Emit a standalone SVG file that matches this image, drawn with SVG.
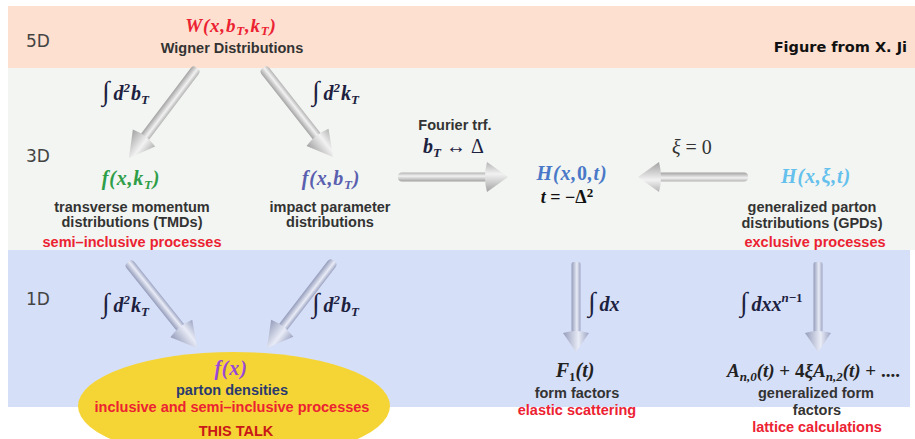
<svg xmlns="http://www.w3.org/2000/svg" width="915" height="439" viewBox="0 0 915 439">
<style>
.lbl{font-family:"Liberation Sans",Arial,sans-serif;font-weight:bold;font-size:14.5px;fill:#333;text-anchor:middle}
.red{fill:#ec2232}
.dim{font-family:"DejaVu Sans",sans-serif;font-size:17px;fill:#444}
.m{font-family:"Liberation Serif","Times New Roman",serif;font-style:italic;font-weight:bold;font-size:20px;fill:#1c2140}
.up{font-style:normal}
.sub{font-size:13px}
.int{font-style:normal;font-size:27px;font-weight:normal}
</style>
<defs>
<linearGradient id="gGray" x1="0" y1="0" x2="0" y2="1">
<stop offset="0" stop-color="#b4b4b4"/><stop offset="0.4" stop-color="#f2f2f2"/><stop offset="1" stop-color="#a2a2a2"/>
</linearGradient>
<linearGradient id="gBlue" x1="0" y1="0" x2="0" y2="1">
<stop offset="0" stop-color="#9ca4c2"/><stop offset="0.4" stop-color="#e9ecf7"/><stop offset="1" stop-color="#949cba"/>
</linearGradient>
</defs>

<g id="bands">
<rect x="8" y="6" width="907" height="62" fill="#fde0cf"/>
<rect x="8" y="68" width="907" height="182" fill="#f2f5f1"/>
<rect x="8" y="250" width="902" height="157" fill="#d6dff8"/>
<text class="dim" x="26" y="47">5D</text>
<text class="dim" x="26" y="162">3D</text>
<text class="dim" x="26" y="305">1D</text>
<text x="907" y="52" font-family="DejaVu Sans,sans-serif" font-weight="bold" font-size="14.5" fill="#111" text-anchor="end">Figure from X. Ji</text>
</g>

<g id="connectors">
<g transform="translate(197,68) rotate(127.1)">
<rect x="0" y="-5" width="90.8" height="10" rx="4" fill="url(#gGray)"/>
<path d="M112.8,0 L87.8,-14 Q83.8,0 87.8,14 Z" fill="url(#gGray)"/>
</g>
<g transform="translate(263,68) rotate(51.8)">
<rect x="0" y="-5" width="91.2" height="10" rx="4" fill="url(#gGray)"/>
<path d="M113.2,0 L88.2,-14 Q84.2,0 88.2,14 Z" fill="url(#gGray)"/>
</g>
<g transform="translate(398,177)">
<rect x="0" y="-4.5" width="91" height="9" rx="4" fill="url(#gGray)"/>
<path d="M110,0 L89,-15 Q85,0 89,15 Z" fill="url(#gGray)"/>
</g>
<g transform="translate(748,177) rotate(180)">
<rect x="0" y="-4.5" width="91" height="9" rx="4" fill="url(#gGray)"/>
<path d="M110,0 L89,-15 Q85,0 89,15 Z" fill="url(#gGray)"/>
</g>
<g transform="translate(128,262) rotate(51.3)">
<rect x="0" y="-5" width="88.3" height="10" rx="4" fill="url(#gBlue)"/>
<path d="M110.3,0 L85.3,-14 Q81.3,0 85.3,14 Z" fill="url(#gBlue)"/>
</g>
<g transform="translate(334,261) rotate(127.6)">
<rect x="0" y="-5" width="87.8" height="10" rx="4" fill="url(#gBlue)"/>
<path d="M109.8,0 L84.8,-14 Q80.8,0 84.8,14 Z" fill="url(#gBlue)"/>
</g>
<g transform="translate(576,262) rotate(90)">
<rect x="0" y="-4.5" width="73" height="9" rx="2" fill="url(#gBlue)"/>
<path d="M90,0 L71,-13 Q67,0 71,13 Z" fill="url(#gBlue)"/>
</g>
<g transform="translate(818,262) rotate(90)">
<rect x="0" y="-4.5" width="73" height="9" rx="2" fill="url(#gBlue)"/>
<path d="M90,0 L71,-13 Q67,0 71,13 Z" fill="url(#gBlue)"/>
</g>
<text class="m" x="102" y="100"><tspan class="int">∫</tspan><tspan dx="4">d</tspan><tspan class="sub" dy="-8">2</tspan><tspan dy="8" dx="1">b</tspan><tspan class="sub" dy="4">T</tspan></text>
<text class="m" x="312" y="100"><tspan class="int">∫</tspan><tspan dx="4">d</tspan><tspan class="sub" dy="-8">2</tspan><tspan dy="8" dx="1">k</tspan><tspan class="sub" dy="4">T</tspan></text>
<text class="lbl" x="455" y="130">Fourier trf.</text>
<text class="m" x="423" y="153"><tspan>b</tspan><tspan class="sub" dy="4">T</tspan><tspan class="up" dy="-4" font-weight="normal"> ↔ Δ</tspan></text>
<text class="m" x="672" y="154" style="font-weight:normal;fill:#333"><tspan>ξ</tspan><tspan class="up"> = 0</tspan></text>
<text class="m" x="102" y="312"><tspan class="int">∫</tspan><tspan dx="4">d</tspan><tspan class="sub" dy="-8">2</tspan><tspan dy="8" dx="1">k</tspan><tspan class="sub" dy="4">T</tspan></text>
<text class="m" x="312" y="312"><tspan class="int">∫</tspan><tspan dx="4">d</tspan><tspan class="sub" dy="-8">2</tspan><tspan dy="8" dx="1">b</tspan><tspan class="sub" dy="4">T</tspan></text>
<text class="m" x="588" y="311"><tspan class="int">∫</tspan><tspan dx="4">dx</tspan></text>
<text class="m" x="740" y="311"><tspan class="int">∫</tspan><tspan dx="4">dxx</tspan><tspan class="sub" dy="-9">n<tspan class="up">−1</tspan></tspan></text>
</g>

<g id="node-W">
<text class="m" x="231" y="32" text-anchor="middle" letter-spacing="0.8" style="fill:#ec2232;font-size:19px"><tspan>W(x,b</tspan><tspan class="sub" dy="3">T</tspan><tspan dy="-3">,k</tspan><tspan class="sub" dy="3">T</tspan><tspan dy="-3">)</tspan></text>
<text class="lbl" x="232" y="53">Wigner Distributions</text>
</g>

<g id="node-TMD">
<text class="m" x="131" y="185" text-anchor="middle" letter-spacing="0.8" style="fill:#2e9e48"><tspan>f(x,k</tspan><tspan class="sub" dy="4">T</tspan><tspan dy="-4">)</tspan></text>
<text class="lbl" x="132" y="212">transverse momentum</text>
<text class="lbl" x="132" y="227">distributions (TMDs)</text>
<text class="lbl red" x="132" y="247">semi–inclusive processes</text>
</g>

<g id="node-IPD">
<text class="m" x="331" y="185" text-anchor="middle" letter-spacing="0.8" style="fill:#5a5fb0"><tspan>f(x,b</tspan><tspan class="sub" dy="4">T</tspan><tspan dy="-4">)</tspan></text>
<text class="lbl" x="330" y="212">impact parameter</text>
<text class="lbl" x="330" y="227">distributions</text>
</g>

<g id="node-H0">
<text class="m" x="572" y="180" text-anchor="middle" letter-spacing="0.8" style="fill:#4a78c8"><tspan>H(x,</tspan><tspan class="up">0</tspan><tspan>,t)</tspan></text>
<text class="m" x="567" y="203" text-anchor="middle" style="fill:#111;font-size:18px"><tspan>t</tspan><tspan class="up"> = −Δ</tspan><tspan class="sub up" dy="-6">2</tspan></text>
</g>

<g id="node-GPD">
<text class="m" x="816" y="183" text-anchor="middle" letter-spacing="0.8" style="fill:#64c0ec">H(x,ξ,t)</text>
<text class="lbl" x="812" y="212">generalized parton</text>
<text class="lbl" x="812" y="228">distributions (GPDs)</text>
<text class="lbl red" x="815" y="247">exclusive processes</text>
</g>

<g id="node-pdf">
<ellipse cx="234" cy="406" rx="156" ry="54" fill="#f5d535"/>
<text class="m" x="231" y="375" text-anchor="middle" letter-spacing="0.8" style="fill:#9a48d8">f(x)</text>
<text class="lbl" x="232" y="395" style="fill:#2a3a70">parton densities</text>
<text class="lbl red" x="232" y="412">inclusive and semi–inclusive processes</text>
<text class="lbl" x="236" y="436" style="fill:#c81818">THIS TALK</text>
</g>

<g id="node-F1">
<text class="m" x="575" y="377" text-anchor="middle" style="fill:#222"><tspan>F</tspan><tspan class="sub up" dy="4">1</tspan><tspan dy="-4">(t)</tspan></text>
<text class="lbl" x="577" y="398">form factors</text>
<text class="lbl red" x="577" y="415">elastic scattering</text>
</g>

<g id="node-GFF">
<text class="m" x="727" y="377" style="fill:#222;font-size:19px"><tspan>A</tspan><tspan class="sub" dy="4">n,0</tspan><tspan dy="-4">(t) </tspan><tspan class="up">+ 4</tspan><tspan>ξA</tspan><tspan class="sub" dy="4">n,2</tspan><tspan dy="-4">(t) </tspan><tspan class="up">+ ....</tspan></text>
<text class="lbl" x="816" y="398">generalized form</text>
<text class="lbl" x="817" y="415">factors</text>
<text class="lbl red" x="817" y="432">lattice calculations</text>
</g>
</svg>
